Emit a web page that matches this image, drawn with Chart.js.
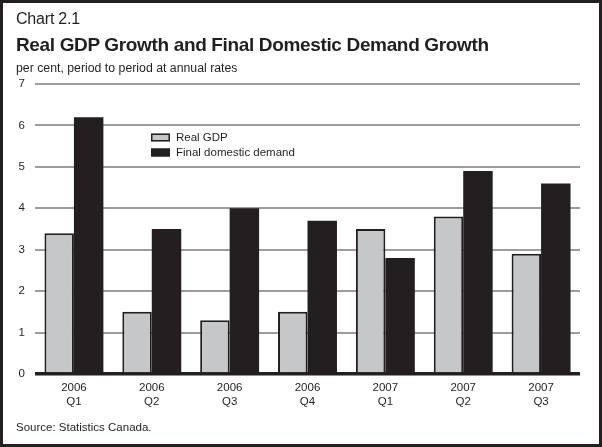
<!DOCTYPE html>
<html><head><meta charset="utf-8">
<script src="https://cdn.jsdelivr.net/npm/chart.js@4"></script>
<style>
html,body{margin:0;padding:0;background:#fff;}
#wrap{position:relative;width:602px;height:447px;overflow:hidden;font-family:"Liberation Sans",Arial,sans-serif;color:#231f20;}
#frame{position:absolute;left:0;top:0;width:596px;height:441px;border:3px solid #231f20;pointer-events:none;}
canvas{position:absolute;left:0;top:0;}
.t{position:absolute;left:16px;white-space:nowrap;}
</style></head>
<body><div id="wrap">
<canvas id="c" width="602" height="447"></canvas>
<div class="t" style="top:10px;font-size:16px;letter-spacing:-0.2px;">Chart 2.1</div>
<div class="t" style="top:34px;font-size:19px;font-weight:bold;letter-spacing:-0.35px;">Real GDP Growth and Final Domestic Demand Growth</div>
<div class="t" style="top:61px;font-size:12.3px;">per cent, period to period at annual rates</div>
<div class="t" style="top:421px;font-size:11.5px;">Source: Statistics Canada.</div>
<div id="frame"></div>
</div>
<script>
const categories = [["2006","Q1"],["2006","Q2"],["2006","Q3"],["2006","Q4"],["2007","Q1"],["2007","Q2"],["2007","Q3"]];
const realGDP = [3.4, 1.5, 1.3, 1.5, 3.5, 3.8, 2.9];
const finalDomesticDemand = [6.2, 3.5, 4.0, 3.7, 2.8, 4.9, 4.6];
const seriesNames = ["Real GDP", "Final domestic demand"];
const yTicks = [0,1,2,3,4,5,6,7];

const legendPlugin = {
  id: 'inLegend',
  afterDatasetsDraw(chart) {
    const ctx = chart.ctx, a = chart.chartArea;
    chart.data.datasets.forEach((ds, i) => {
      const x = a.left + 116, y = a.top + 53.5 + i * 15;
      ctx.save();
      ctx.fillStyle = ds.backgroundColor;
      ctx.fillRect(x, y - 4, 19, 8);
      ctx.strokeStyle = '#231f20';
      ctx.lineWidth = 1.5;
      ctx.strokeRect(x + 0.75, y - 3.25, 17.5, 6.5);
      ctx.fillStyle = '#231f20';
      ctx.font = '11.5px "Liberation Sans", Arial, sans-serif';
      ctx.textBaseline = 'middle';
      ctx.fillText(ds.label, x + 25, y);
      ctx.restore();
    });
  }
};

new Chart(document.getElementById('c'), {
  type: 'bar',
  data: {
    labels: categories,
    datasets: [
      {label: seriesNames[0], data: realGDP, backgroundColor: '#c6c7c9', borderColor: '#231f20', borderWidth: 2},
      {label: seriesNames[1], data: finalDomesticDemand, backgroundColor: '#231f20', borderColor: '#231f20', borderWidth: 0}
    ]
  },
  options: {
    responsive: false,
    devicePixelRatio: 1,
    animation: false,
    layout: {padding: {top: 84, right: 22, left: 0, bottom: 0}},
    plugins: {legend: {display: false}, title: {display: false}, tooltip: {enabled: false}},
    datasets: {bar: {categoryPercentage: 0.757, barPercentage: 1.0}},
    scales: {
      x: {
        grid: {display: false, drawTicks: false},
        border: {display: false},
        ticks: {color: '#231f20', font: {family: '"Liberation Sans", Arial, sans-serif', size: 11.5}, padding: 7, maxRotation: 0, autoSkip: false},
        afterFit(s) { s.height = 447 - 374; }
      },
      y: {
        min: 0, max: 7,
        afterBuildTicks(s) { s.ticks = yTicks.map(v => ({value: v})); },
        grid: {
          drawTicks: false,
          color: c => c.tick && c.tick.value === 0 ? '#231f20' : '#9d9d9d',
          lineWidth: c => c.tick && c.tick.value === 0 ? 3.5 : 2
        },
        border: {display: false},
        ticks: {color: '#231f20', font: {family: '"Liberation Sans", Arial, sans-serif', size: 11.5}, padding: 10},
        afterFit(s) { s.width = 35; }
      }
    }
  },
  plugins: [legendPlugin]
});
</script>
</body></html>
